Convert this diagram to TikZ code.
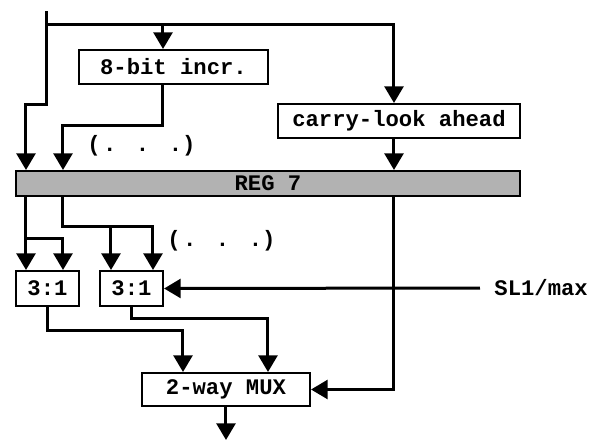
\documentclass[tikz,border=0pt]{standalone}
\usepackage{fontspec}
\setmonofont{Liberation Mono}
\usetikzlibrary{arrows.meta}

\newcommand{\etcdots}{(\hspace{1pt}.\hspace{8.8pt}.\hspace{8.8pt}.)}

\tikzset{
  blk/.style={draw, line width=0.9pt, fill=white, inner sep=0pt,
              font=\ttfamily\bfseries},
  lbl/.style={inner sep=0pt, font=\ttfamily\bfseries},
  wire/.style={line width=1.35pt},
  sig/.style={wire, -{Triangle[width=8.5pt,length=7.5pt]}},
}

\begin{document}
\begin{tikzpicture}[x=0.45pt, y=-0.45pt]
  \useasboundingbox (0,0) rectangle (602,441);

  % === blocks ===
  \node[blk, minimum width=85pt, minimum height=15.3pt] (incr) at (173.5,67) {8-bit incr.};
  \node[blk, minimum width=108.9pt, minimum height=15.3pt] (cla) at (399,121) {carry-look ahead};
  \node[blk, fill=black!30, minimum width=226.8pt, minimum height=11.25pt] (reg) at (268,183.5) {REG 7};
  \node[blk, minimum width=28.4pt, minimum height=15.75pt] (muxa) at (47.5,288.5) {3:1};
  \node[blk, minimum width=28.4pt, minimum height=15.75pt] (muxb) at (131.5,288.5) {3:1};
  \node[blk, minimum width=75.6pt, minimum height=14.85pt] (mux) at (226,389.5) {2-way MUX};

  \node[lbl] (dotsA) at (141.5,146) {\etcdots};
  \node[lbl] (dotsB) at (221.5,241) {\etcdots};

  % === free ends ===
  \coordinate (in) at (47,11);
  \coordinate (sl) at (480,288);
  \coordinate (out) at (226,440);
  \node[lbl, anchor=west] (sltxt) at (494,288) {SL1/max};

  % === top bus into incrementer, look-ahead and register ===
  \draw[sig] (in) |- (26,104) -- (reg.north -| 26,0);
  \draw[sig] (47,24) -| (cla.north -| 394,0);
  \draw[sig] (163,24) -- (incr.north -| 163,0);
  \draw[sig] (incr.south -| 163,0) |- (63,125) -- (reg.north -| 63,0);
  \draw[sig] (cla.south -| 394,0) -- (reg.north -| 394,0);

  % === register outputs to the 3:1 selectors ===
  \draw[sig] (reg.south -| 26,0) -- (muxa.north -| 26,0);
  \draw[sig] (26,238) -| (muxa.north -| 63,0);
  \draw[sig] (reg.south -| 63,0) |- (153,226) -- (muxb.north -| 153,0);
  \draw[sig] (111,226) -- (muxb.north -| 111,0);
  \draw[sig] (sl) -- (muxb.east);

  % === selectors into the output mux ===
  \draw[sig] (muxa.south) |- (183,330) -- (mux.north -| 183,0);
  \draw[sig] (muxb.south) |- (268,318) -- (mux.north -| 268,0);
  \draw[sig] (reg.south -| 394,0) |- (mux.east);
  \draw[sig] (mux.south) -- (out);
\end{tikzpicture}
\end{document}
